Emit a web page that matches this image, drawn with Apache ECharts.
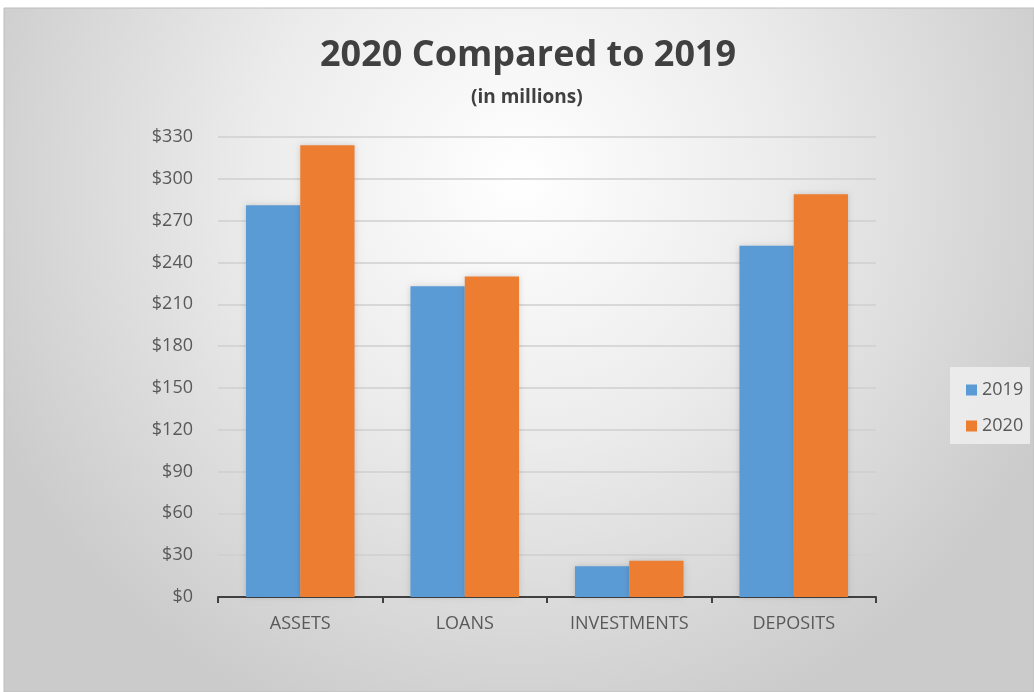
<!DOCTYPE html>
<html>
<head>
<meta charset="utf-8">
<script src="https://cdn.jsdelivr.net/npm/echarts@6/dist/echarts.min.js"></script>
<style>
html,body{margin:0;padding:0;background:#fff;}
#c{width:1034px;height:692px;}
</style>
</head>
<body>
<div id="c"></div>
<script>
const categories = ['ASSETS', 'LOANS', 'INVESTMENTS', 'DEPOSITS'];
const values2019 = [281, 223, 22, 252];
const values2020 = [324, 230, 26, 289];
const yTicks = [0, 30, 60, 90, 120, 150, 180, 210, 240, 270, 300, 330];

const chart = echarts.init(document.getElementById('c'));
const font = '"Open Sans", "Noto Sans", sans-serif';
chart.setOption({
  animation: false,
  graphic: [{
    type: 'rect',
    z: -10,
    silent: true,
    shape: {x: 4, y: 8, width: 1030, height: 684},
    style: {
      fill: new echarts.graphic.RadialGradient(0.5, 0.25, 0.85, [
        {offset: 0, color: '#ffffff'},
        {offset: 0.45, color: '#ececec'},
        {offset: 1, color: '#cbcbcb'}
      ]),
      stroke: '#bdbdbd',
      lineWidth: 1
    }
  }, {
    type: 'rect',
    z: -5,
    silent: true,
    shape: {x: 950, y: 367, width: 80, height: 77},
    style: {fill: 'rgba(238,238,238,0.85)'}
  }, {
    type: 'text',
    left: 527 - 207,
    top: 38,
    z: 10,
    silent: true,
    style: {text: '2020 Compared to 2019', font: 'bold 36px ' + font, fill: '#404040'}
  }, {
    type: 'text',
    left: 527 - 56,
    top: 88,
    z: 10,
    silent: true,
    style: {text: '(in millions)', font: 'bold 19px ' + font, fill: '#404040'}
  }],
  legend: {
    orient: 'vertical',
    left: 961,
    top: 376,
    itemWidth: 11,
    itemHeight: 11,
    itemGap: 18,
    icon: 'rect',
    textStyle: {fontFamily: font, fontSize: 18, color: '#595959'},
    data: ['2019', '2020']
  },
  grid: {left: 218, right: 158, top: 137, bottom: 95},
  xAxis: {
    type: 'category',
    data: categories,
    axisLine: {lineStyle: {color: '#404040', width: 2}},
    axisTick: {show: true, length: 6, lineStyle: {color: '#404040', width: 2}},
    axisLabel: {fontFamily: font, fontSize: 18, color: '#595959', margin: 18}
  },
  yAxis: {
    type: 'value',
    min: 0,
    max: 330,
    interval: 30,
    axisLine: {show: false},
    axisTick: {show: false},
    splitLine: {lineStyle: {color: '#cfcfcf', width: 1.5}},
    axisLabel: {fontFamily: font, fontSize: 18, color: '#595959', margin: 25,
      formatter: v => '$' + v}
  },
  series: [{
    name: '2019',
    type: 'bar',
    data: values2019,
    barGap: '0%',
    barCategoryGap: '34%',
    itemStyle: {color: '#5B9BD5', shadowBlur: 6, shadowColor: 'rgba(0,0,0,0.15)'}
  }, {
    name: '2020',
    type: 'bar',
    data: values2020,
    itemStyle: {color: '#ED7D31', shadowBlur: 6, shadowColor: 'rgba(0,0,0,0.15)'}
  }]
});
</script>
</body>
</html>
